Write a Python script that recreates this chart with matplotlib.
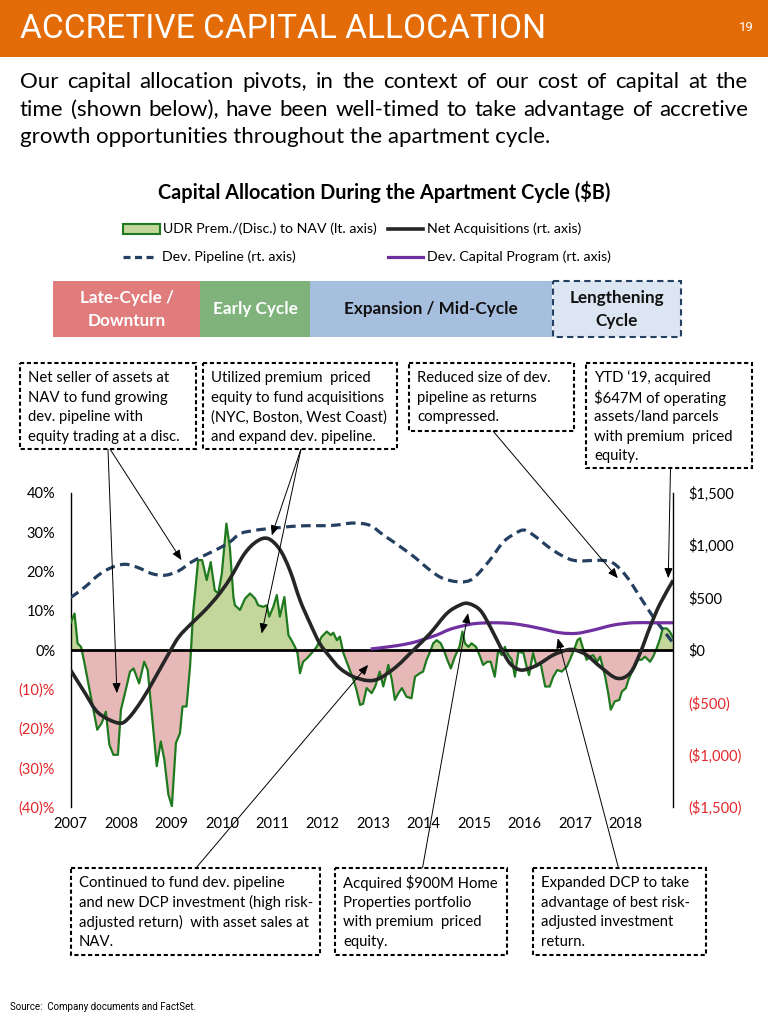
import matplotlib
matplotlib.use("Agg")
import matplotlib.pyplot as plt
import numpy as np
from matplotlib.path import Path
from matplotlib.patches import PathPatch, Rectangle
from matplotlib.lines import Line2D

# ---------------- data ----------------
# UDR premium / (discount) to NAV, % (left axis)
prem_years = [2007.00, 2007.08, 2007.14, 2007.21, 2007.29, 2007.39, 2007.53, 2007.62, 2007.70, 2007.77,
              2007.85, 2007.94, 2008.00, 2008.08, 2008.18, 2008.25, 2008.36, 2008.46, 2008.53, 2008.61,
              2008.71, 2008.79, 2008.86, 2008.94, 2009.01, 2009.09, 2009.17, 2009.22, 2009.30, 2009.37,
              2009.43, 2009.53, 2009.61, 2009.70, 2009.78, 2009.86, 2009.93, 2010.00, 2010.09, 2010.16,
              2010.23, 2010.26, 2010.36, 2010.46, 2010.56, 2010.66, 2010.72, 2010.82, 2010.89, 2010.94,
              2011.02, 2011.09, 2011.15, 2011.24, 2011.32, 2011.38, 2011.45, 2011.50, 2011.55, 2011.61,
              2011.69, 2011.78, 2011.88, 2011.98, 2012.08, 2012.16, 2012.21, 2012.28, 2012.34, 2012.41,
              2012.51, 2012.61, 2012.67, 2012.74, 2012.80, 2012.87, 2012.97, 2013.04, 2013.13, 2013.20,
              2013.25, 2013.30, 2013.37, 2013.43, 2013.50, 2013.57, 2013.66, 2013.76, 2013.83, 2013.93,
              2013.99, 2014.06, 2014.13, 2014.19, 2014.26, 2014.34, 2014.40, 2014.47, 2014.54, 2014.62,
              2014.71, 2014.77, 2014.82, 2014.89, 2014.95, 2015.04, 2015.12, 2015.18, 2015.26, 2015.33,
              2015.41, 2015.48, 2015.55, 2015.61, 2015.68, 2015.75, 2015.81, 2015.88, 2015.98, 2016.04,
              2016.09, 2016.17, 2016.24, 2016.32, 2016.41, 2016.50, 2016.57, 2016.65, 2016.74, 2016.84,
              2016.90, 2016.98, 2017.05, 2017.10, 2017.17, 2017.23, 2017.30, 2017.36, 2017.44, 2017.50,
              2017.60, 2017.66, 2017.71, 2017.79, 2017.88, 2017.93, 2018.01, 2018.06, 2018.12, 2018.19,
              2018.25, 2018.32, 2018.39, 2018.49, 2018.55, 2018.62, 2018.69, 2018.74, 2018.82, 2018.88,
              2018.95]
prem_pct = [6.8, 9.3, 1.7, 0.8, -4.2, -11.0, -20.3, -18.6, -15.7, -24.1,
            -26.7, -26.7, -15.2, -11.0, -5.5, -4.7, -8.5, -3.0, -5.1, -16.1,
            -29.6, -23.3, -27.9, -36.8, -39.8, -23.7, -21.2, -14.4, -14.4, -4.2,
            9.3, 22.9, 22.9, 17.8, 22.4, 15.2, 14.4, 19.5, 32.2, 26.0,
            13.5, 11.4, 10.2, 13.1, 14.4, 13.1, 11.4, 11.0, 11.4, 8.5,
            11.0, 14.0, 8.5, 13.5, 3.8, 2.5, 0.8, -0.8, -5.9, -3.0,
            -2.1, -0.8, 0.8, 3.4, 4.7, 3.8, 4.4, 2.5, 3.4, -0.8,
            -4.2, -7.6, -10.2, -14.0, -13.7, -9.7, -11.0, -9.3, -5.5, -9.3,
            -6.8, -3.8, -7.6, -12.7, -11.0, -9.7, -11.9, -12.3, -6.8, -5.9,
            -5.5, -2.5, -0.4, 1.7, 2.5, 1.7, 0.0, -2.5, -4.7, -1.7,
            0.8, 4.7, 1.7, 0.8, 1.7, 0.8, -1.7, -3.8, -3.0, -3.0,
            -6.8, 0.0, -1.3, 0.8, -1.3, -2.5, -6.8, -0.4, -0.8, -4.2,
            -6.4, -0.8, -4.2, -3.4, -9.3, -9.3, -6.8, -5.1, -5.5, -4.2,
            -2.5, 0.0, 2.5, 3.0, 0.0, -2.5, -1.7, -1.3, -3.0, -1.7,
            -6.8, -11.0, -15.2, -13.1, -12.7, -10.6, -9.7, -7.6, -5.9, -4.2,
            -2.5, -2.5, -1.7, -3.0, -1.7, 0.4, 3.0, 5.5, 5.5, 4.7,
            3.0]

# Net acquisitions, $M (right axis)
acq_years = [2007.00, 2007.29, 2007.55, 2007.95, 2008.15, 2008.42, 2008.69, 2008.95, 2009.15, 2009.40,
             2009.67, 2009.93, 2010.16, 2010.45, 2010.70, 2010.92, 2011.15, 2011.35, 2011.55, 2011.75,
             2011.94, 2012.14, 2012.34, 2012.60, 2012.90, 2013.13, 2013.46, 2013.80, 2014.13, 2014.46,
             2014.72, 2014.89, 2015.12, 2015.32, 2015.52, 2015.71, 2015.91, 2016.11, 2016.31, 2016.57,
             2016.84, 2017.00, 2017.23, 2017.50, 2017.83, 2018.09, 2018.29, 2018.49, 2018.69, 2018.95]
acq_musd = [-190, -413, -600, -698, -651, -476, -254, -32, 127, 254,
            381, 524, 680, 920, 1040, 1064, 960, 760, 476, 254,
            64, -64, -174, -254, -292, -270, -159, 0, 159, 349,
            429, 444, 381, 222, 32, -127, -190, -174, -127, -48,
            0, 0, -48, -159, -270, -222, -32, 222, 444, 667]

# Development pipeline, $M (right axis)
pipe_years = [2007.00, 2007.29, 2007.55, 2007.81, 2008.08, 2008.34, 2008.61, 2008.87, 2009.14, 2009.40,
              2009.66, 2009.93, 2010.16, 2010.36, 2010.62, 2010.92, 2011.52, 2012.17, 2012.61, 2012.94,
              2013.20, 2013.73, 2014.13, 2014.39, 2014.72, 2014.98, 2015.31, 2015.58, 2015.84, 2016.00,
              2016.20, 2016.57, 2016.97, 2017.50, 2017.76, 2018.03, 2018.29, 2018.55, 2018.75, 2018.95]
pipe_musd = [500, 603, 714, 787, 819, 787, 730, 714, 755, 841,
             905, 968, 1032, 1111, 1140, 1159, 1185, 1190, 1213, 1190,
             1100, 921, 762, 683, 651, 683, 857, 1032, 1120, 1145,
             1090, 952, 857, 857, 830, 698, 508, 317, 190, 64]

# Development capital program, $M (right axis)
dcp_years = [2012.95, 2013.33, 2013.73, 2014.00, 2014.26, 2014.52, 2014.79, 2015.05, 2015.45, 2015.84,
             2016.31, 2016.70, 2017.03, 2017.36, 2017.76, 2018.15, 2018.55, 2018.95]
dcp_musd = [10, 32, 64, 102, 143, 197, 232, 254, 260, 248,
            206, 165, 159, 190, 238, 260, 260, 260]

year_ticks = list(range(2007, 2019))
pct_ticks = [-40, -30, -20, -10, 0, 10, 20, 30, 40]
usd_ticks = [-1500, -1000, -500, 0, 500, 1000, 1500]

title = "ACCRETIVE CAPITAL ALLOCATION"
intro = ["Our capital allocation pivots, in the context of our cost of capital at the",
         "time (shown below), have been well-timed to take advantage of accretive",
         "growth opportunities throughout the apartment cycle."]
chart_title = "Capital Allocation During the Apartment Cycle ($B)"
legend_labels = ["UDR Prem./(Disc.) to NAV (lt. axis)", "Net Acquisitions (rt. axis)",
                 "Dev. Pipeline (rt. axis)", "Dev. Capital Program (rt. axis)"]
phase_labels = [["Late-Cycle /", "Downturn"], ["Early Cycle"], ["Expansion / Mid-Cycle"], ["Lengthening", "Cycle"]]
notes_top = [["Net seller of assets at", "NAV to fund growing", "dev. pipeline with", "equity trading at a disc."],
             ["Utilized premium  priced", "equity to fund acquisitions", "(NYC, Boston, West Coast)", "and expand dev. pipeline."],
             ["Reduced size of dev.", "pipeline as returns", "compressed."],
             ["YTD \u201819, acquired", "$647M of operating", "assets/land parcels", "with premium  priced", "equity."]]
notes_bottom = [["Continued to fund dev. pipeline", "and new DCP investment (high risk-", "adjusted return)  with asset sales at", "NAV."],
                ["Acquired $900M Home", "Properties portfolio", "with premium  priced", "equity."],
                ["Expanded DCP to take", "advantage of best risk-", "adjusted investment", "return."]]
source = "Source:  Company documents and FactSet."

# ---------------- style ----------------
SANS = ["Lato", "DejaVu Sans"]
NARROW = ["Roboto", "Liberation Sans", "DejaVu Sans"]
ORANGE = "#E36C09"
RED = "#E3262A"
GREEN_FILL = "#C3D69B"
PINK_FILL = "#E6B9B8"
GREEN_LINE = "#1F7A1F"
NAVY = "#243F60"
PURPLE = "#7030A0"
BLACK_LINE = "#262626"

W, H = 768, 1018
fig = plt.figure(figsize=(W / 100, H / 100), dpi=100)


def fig_box(x0, y0, x1, y1):
    return [x0 / W, 1 - y1 / H, (x1 - x0) / W, (y1 - y0) / H]


def smooth_patch(xs, ys, **kw):
    # Catmull-Rom style bezier through the points (like Excel's smoothed line)
    p = np.column_stack([xs, ys]).astype(float)
    n = len(p)
    verts = [p[0]]
    codes = [Path.MOVETO]
    for i in range(n - 1):
        p0 = p[i - 1] if i > 0 else p[i]
        p3 = p[i + 2] if i + 2 < n else p[i + 1]
        verts += [p[i] + (p[i + 1] - p0) / 6, p[i + 1] - (p3 - p[i]) / 6, p[i + 1]]
        codes += [Path.CURVE4] * 3
    return PathPatch(Path(verts, codes), fill=False, **kw)


# ---------------- main chart ----------------
ax = fig.add_axes(fig_box(70.5, 493, 673.3, 807))
x = np.array(prem_years)
y = np.array(prem_pct)
ax.fill_between(x, y, 0, where=y >= 0, interpolate=True, color=GREEN_FILL, lw=0)
ax.fill_between(x, y, 0, where=y <= 0, interpolate=True, color=PINK_FILL, lw=0)
ax.plot(x, y, color=GREEN_LINE, lw=1.6, zorder=3)
ax.axhline(0, color="black", lw=2, zorder=4)
ax.set_xlim(2007, 2018.95)
ax.set_ylim(-40, 40)

ax2 = ax.twinx()
ax2.set_ylim(-1500, 1500)
ax2.add_patch(smooth_patch(pipe_years, pipe_musd, edgecolor=NAVY, lw=2.3, linestyle=(0, (3.0, 1.7)), capstyle="butt"))
ax2.add_patch(smooth_patch(dcp_years, dcp_musd, edgecolor=PURPLE, lw=2.3))
ax2.add_patch(smooth_patch(acq_years, acq_musd, edgecolor=BLACK_LINE, lw=2.6))

for a in (ax, ax2):
    for s in a.spines.values():
        s.set_visible(False)
    a.tick_params(length=0)
ax.spines["left"].set_visible(True)
ax.spines["left"].set_linewidth(1)
ax2.spines["right"].set_visible(True)
ax2.spines["right"].set_linewidth(1)

ax.set_xticks(year_ticks)
ax.set_xticklabels([str(v) for v in year_ticks], fontfamily=SANS, fontsize=10.5)
ax.tick_params(axis="x", pad=7)

ax.set_yticks(pct_ticks)
ax.set_yticklabels([f"{v}%" if v >= 0 else f"({-v})%" for v in pct_ticks], fontfamily=SANS, fontsize=10.5)
ax.tick_params(axis="y", pad=11)
for lab, v in zip(ax.get_yticklabels(), pct_ticks):
    lab.set_color(RED if v < 0 else "black")

ax2.set_yticks(usd_ticks)
ax2.set_yticklabels([f"${v:,}" if v >= 0 else f"(${-v:,})" for v in usd_ticks], fontfamily=SANS, fontsize=10.5)
ax2.tick_params(axis="y", pad=11)
for lab, v in zip(ax2.get_yticklabels(), usd_ticks):
    lab.set_color(RED if v < 0 else "black")

# ---------------- overlay in pixel coordinates ----------------
ov = fig.add_axes([0, 0, 1, 1])
ov.set_xlim(0, W)
ov.set_ylim(H, 0)
ov.axis("off")
renderer = fig.canvas.get_renderer()


def fit_width(txt, width):
    w0 = txt.get_window_extent(renderer).width
    txt.set_fontsize(txt.get_fontsize() * width / w0)


# header
ov.add_patch(Rectangle((0, 0), W, 57, color=ORANGE, lw=0))
t = ov.text(20, 29, title, color="white", fontsize=24, family=NARROW, va="center", ha="left")
fit_width(t, 528)
ov.text(746, 27, "19", color="white", fontsize=9.5, family=NARROW, va="center", ha="center")

# intro paragraph, justified like the slide
line_y = [82, 110, 137]
for i, line in enumerate(intro):
    if i == len(intro) - 1:
        ov.text(20, line_y[i], line, fontsize=16, family=SANS, va="center", ha="left")
        continue
    words = line.split(" ")
    objs = [ov.text(0, line_y[i], w_, fontsize=16, family=SANS, va="center", ha="left") for w_ in words]
    widths = [o.get_window_extent(renderer).width for o in objs]
    gap = (748 - 20 - sum(widths)) / (len(words) - 1)
    xx = 20
    for o, wd in zip(objs, widths):
        o.set_x(xx)
        xx += wd + gap

# chart title
t = ov.text(384, 192, chart_title, fontsize=13, fontweight="bold", family=SANS, va="center", ha="center")
fit_width(t, 450)

# legend
ov.add_patch(Rectangle((123, 224), 37, 10, facecolor=GREEN_FILL, edgecolor=GREEN_LINE, lw=1.5))
ov.text(163, 229, legend_labels[0], fontsize=10.2, family=SANS, va="center", ha="left")
ov.add_line(Line2D([388, 423], [229, 229], color=BLACK_LINE, lw=2.6))
ov.text(427, 229, legend_labels[1], fontsize=10.2, family=SANS, va="center", ha="left")
ov.add_line(Line2D([123, 157], [257, 257], color=NAVY, lw=2.3, linestyle=(0, (2.2, 1.4))))
ov.text(162, 257, legend_labels[2], fontsize=10.2, family=SANS, va="center", ha="left")
ov.add_line(Line2D([388, 423], [257, 257], color=PURPLE, lw=2.3))
ov.text(427, 257, legend_labels[3], fontsize=10.2, family=SANS, va="center", ha="left")

# cycle phase bar
phase_spans = [(53, 200), (200, 310), (310, 552), (553, 681)]
phase_fill = ["#E07C7C", "#80B27C", "#A7BFDE", "#DCE6F2"]
phase_text = ["white", "white", "#111111", "#111111"]
for k, ((x0, x1), fc, tc, lines) in enumerate(zip(phase_spans, phase_fill, phase_text, phase_labels)):
    if k == 3:
        ov.add_patch(Rectangle((x0, 281), x1 - x0, 56, facecolor=fc, edgecolor=NAVY, lw=1.5,
                               linestyle=(0, (3, 2))))
    else:
        ov.add_patch(Rectangle((x0, 281), x1 - x0, 56, facecolor=fc, lw=0))
    cy = [309] if len(lines) == 1 else [298, 321]
    for ln, yy in zip(lines, cy):
        ov.text((x0 + x1) / 2, yy, ln, color=tc, fontsize=12.3, fontweight="bold", family=SANS,
                va="center", ha="center")

# annotation boxes
top_rects = [(20, 363, 196, 449), (203, 363, 397, 449), (409, 363, 574, 431), (586, 363, 752, 468)]
bot_rects = [(71, 868, 320, 955), (335, 868, 507, 955), (533, 868, 706, 955)]
for (x0, y0, x1, y1), lines in zip(top_rects + bot_rects, notes_top + notes_bottom):
    ov.add_patch(Rectangle((x0, y0), x1 - x0, y1 - y0, facecolor="white", edgecolor="black", lw=1.5,
                           linestyle=(0, (2, 1.3)), zorder=5))
    for j, ln in enumerate(lines):
        ov.text(x0 + 8, y0 + 15 + j * 19.6, ln, fontsize=10.7, family=SANS, va="center", ha="left", zorder=6)

# arrows: start on a box (pixels), end on the chart (year, % on the left axis)
arrows = [((108, 449), (2007.92, -11.0)), ((110, 449), (2009.20, 22.9)),
          ((301, 449), (2010.99, 29.2)), ((301, 449), (2010.79, 4.2)),
          ((493, 431), (2017.85, 18.3)), ((670.5, 468), (2018.85, 18.3)),
          ((196, 868), (2012.90, -3.8)), ((422.5, 868), (2014.88, 9.4)), ((618.5, 868), (2016.66, 3.0))]
for start, end in arrows:
    ov.annotate("", xy=end, xycoords=ax.transData, xytext=start, textcoords="data",
                arrowprops=dict(arrowstyle="-|>,head_length=0.6,head_width=0.25", color="black", lw=0.7,
                                mutation_scale=10, shrinkA=0, shrinkB=0), annotation_clip=False)

ov.text(10, 1007, source, fontsize=7, family=NARROW, va="center", ha="left")

fig.savefig("out.png", dpi=100)
